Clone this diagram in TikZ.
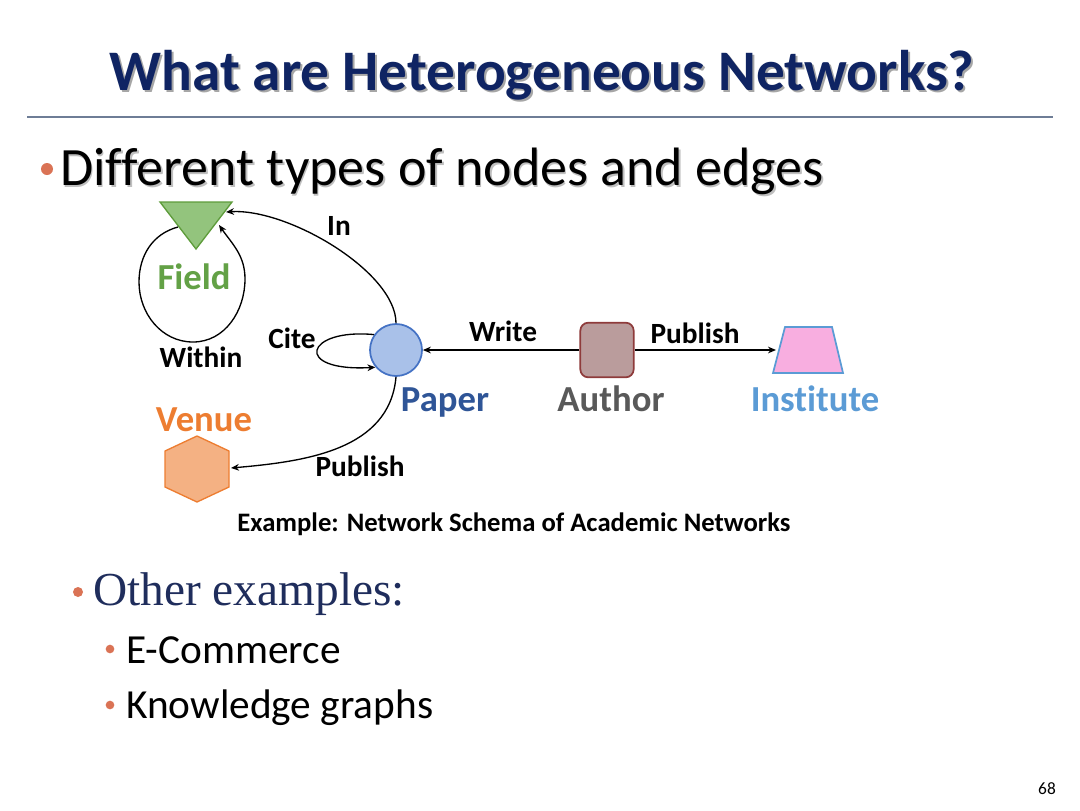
\documentclass[tikz,border=0pt]{standalone}
\usepackage{fontspec}
\setmainfont{Carlito}[Ligatures=NoCommon]
\newfontfamily\serifx{Liberation Serif}
\usetikzlibrary{arrows.meta,shapes.geometric}
\definecolor{titlec}{HTML}{0F2463}
\definecolor{rulec}{HTML}{6E7D96}
\definecolor{bulc}{HTML}{DA7355}
\definecolor{fieldfill}{HTML}{93C47D}
\definecolor{fielddraw}{HTML}{5E9C3B}
\definecolor{fieldtxt}{HTML}{63A146}
\definecolor{venuefill}{HTML}{F4B183}
\definecolor{venuedraw}{HTML}{ED7D31}
\definecolor{paperfill}{HTML}{A9C1E9}
\definecolor{paperdraw}{HTML}{4472C4}
\definecolor{papertxt}{HTML}{2F5597}
\definecolor{authfill}{HTML}{BA9C9C}
\definecolor{authdraw}{HTML}{8E3B3B}
\definecolor{authtxt}{HTML}{595959}
\definecolor{instfill}{HTML}{F8AEE0}
\definecolor{instdraw}{HTML}{5B9BD5}
\definecolor{othc}{HTML}{1F2D5C}
\begin{document}
\begin{tikzpicture}[x=0.75pt,y=-0.75pt,
  arr/.style={draw=black,line width=1pt,-{Stealth[length=6pt,width=5pt]}},
  elabel/.style={font=\fontsize{22}{26}\selectfont\bfseries,text=black,inner sep=0pt},
  nlabel/.style={font=\fontsize{27.5}{32}\selectfont\bfseries,inner sep=0pt},
  bul/.style={circle,fill=bulc,inner sep=0pt},
]
\useasboundingbox (0,0) rectangle (1080,810);
% title
\node[anchor=base,text=black!35,inner sep=0pt,font=\fontsize{43}{50}\selectfont\bfseries] (titleshadow) at (544,92) {What are Heterogeneous Networks?};
\node[anchor=base,text=titlec,inner sep=0pt,font=\fontsize{43}{50}\selectfont\bfseries] (title) at (542,90) {What are Heterogeneous Networks?};
\draw[rulec,line width=2.2pt] (27,117) -- (1053,117);
% first bullet
\node[bul,minimum size=9pt] (b1) at (47,169) {};
\node[anchor=base west,text=black!25,inner sep=0pt,font=\fontsize{40.5}{46}\selectfont] (l1s) at (61.5,187) {Different types of nodes and edges};
\node[anchor=base west,inner sep=0pt,font=\fontsize{40.5}{46}\selectfont] (l1) at (60,185) {Different types of nodes and edges};
% Field triangle
\draw[fill=fieldfill,draw=fielddraw,line width=1pt] (160,202) -- (232,202) -- (196,249) -- cycle;
\coordinate (fieldL) at (178,227);
\coordinate (fieldR) at (219,225);
\coordinate (fieldTR) at (226,212);
% Venue hexagon
\draw[fill=venuefill,draw=venuedraw,line width=1pt] (197,436) -- (229,451) -- (229,487) -- (197,502) -- (165,487) -- (165,451) -- cycle;
\coordinate (venueR) at (231,468);
% Institute trapezoid
\draw[fill=instfill,draw=instdraw,line width=1.3pt] (785,327) -- (832,327) -- (843,373) -- (773,373) -- cycle;
\coordinate (instW) at (776,350);
% nodes
\node[circle,minimum size=39pt,inner sep=0pt,fill=paperfill,draw=paperdraw,line width=1.3pt] (paper) at (396,350) {};
\node[rectangle,rounded corners=6pt,minimum width=40pt,minimum height=41pt,inner sep=0pt,fill=authfill,draw=authdraw,line width=1.3pt] (author) at (607,350) {};
% connectors
\draw[arr] (paper.north) .. controls (396,272) and (288,208) .. (fieldTR);
\draw[arr] (fieldL) to[out=195,in=90] (139,282) to[out=-90,in=180] (193,342) to[out=0,in=-90] (245,279) to[out=90,in=-55] (fieldR);
\draw[arr] (paper.145) .. controls (305,328) and (292,372) .. (paper.220);
\draw[arr] (paper.south) to[out=-95,in=5] (venueR);
\draw[arr] (author) -- (paper);
\draw[arr] (author) -- (instW);
% labels
\node[elabel] (lin) at (339,226) {In};
\node[elabel] (lcite) at (292,338) {Cite};
\node[elabel] (lwithin) at (201,357) {Within};
\node[elabel] (lpub1) at (360,466) {Publish};
\node[elabel] (lwrite) at (503,331) {Write};
\node[elabel] (lpub2) at (695,333) {Publish};
\node[nlabel,text=fieldtxt] (tfield) at (194,277) {Field};
\node[nlabel,text=venuedraw] (tvenue) at (204,420) {Venue};
\node[nlabel,text=papertxt] (tpaper) at (445,402) {Paper};
\node[nlabel,text=authtxt] (tauthor) at (611,399) {Author};
\node[nlabel,text=instdraw] (tinst) at (815,399) {Institute};
\node[inner sep=0pt,font=\fontsize{20}{24}\selectfont\bfseries] (caption) at (514,524) {Example: Network Schema of Academic Networks};
% other examples
\node[bul,minimum size=7.5pt] (b2) at (78,592) {};
\node[anchor=base west,inner sep=0pt,text=othc,font=\serifx\fontsize{35.5}{42}\selectfont] (l2) at (93,605) {Other examples:};
\node[bul,minimum size=6.5pt] (b3) at (110,649) {};
\node[anchor=base west,inner sep=0pt,font=\fontsize{31}{36}\selectfont] (l3) at (126,663) {E-Commerce};
\node[bul,minimum size=6.5pt] (b4) at (110,705) {};
\node[anchor=base west,inner sep=0pt,font=\fontsize{31}{36}\selectfont] (l4) at (126,718) {Knowledge graphs};
\node[inner sep=0pt,font=\fontsize{13}{15}\selectfont] (pnum) at (1047,789) {68};
\end{tikzpicture}
\end{document}
